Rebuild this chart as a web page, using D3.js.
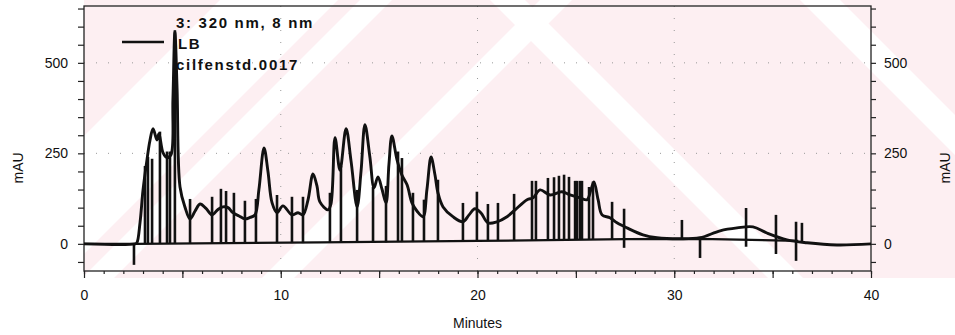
<!DOCTYPE html>
<html>
<head>
<meta charset="utf-8">
<script src="https://cdn.jsdelivr.net/npm/d3@7/dist/d3.min.js"></script>
<style>
  body { margin: 0; background: #fff; }
  svg { display: block; }
  text { font-family: "Liberation Sans", Arial, sans-serif; fill: #111; }
</style>
</head>
<body>
<svg id="chart" width="955" height="335"></svg>
<script>
// chromatogram trace (minutes, mAU)
const traceTime = [0, 2.6, 2.69, 2.85, 3.0, 3.2, 3.35, 3.51, 3.71, 3.81, 4.02, 4.22, 4.42, 4.52, 4.62, 4.73, 4.88, 5.13, 5.39,
  5.64, 5.9, 6.2, 6.51, 6.81, 7.06, 7.32, 7.57, 7.88, 8.18, 8.44, 8.69, 8.89, 9.15, 9.35, 9.56, 9.81, 10.11, 10.57,
  10.88, 11.13, 11.38, 11.64, 11.84, 11.99, 12.4, 12.55, 12.76, 13.01, 13.32, 13.57, 13.88, 14.08, 14.28, 14.53,
  14.74, 14.94, 15.15, 15.35, 15.5, 15.65, 15.91, 16.16, 16.42, 16.67, 16.93, 17.23, 17.43, 17.64, 17.84, 17.99,
  18.25, 18.75, 19.26, 19.57, 19.87, 20.18, 20.53, 20.99, 21.5, 21.91, 22.52, 22.82, 23.18, 23.69, 24.29, 24.7,
  25.21, 25.57, 25.77, 25.92, 26.13, 26.33, 26.73, 27.09, 27.6, 28.41, 29.12, 30.29, 31.31, 32.33, 33.19, 34.0,
  34.71, 35.73, 36.75, 38.27, 40];
const traceMAU = [0, 0, 3, 60, 149, 232, 285, 318, 287, 304, 251, 238, 246, 400, 585, 430, 157, 102, 69,
  90, 110, 98, 80, 95, 102, 100, 86, 77, 69, 73, 80, 150, 265, 200, 113, 86, 105, 80,
  86, 80, 120, 193, 160, 116, 94, 110, 293, 204, 318, 230, 102, 200, 329, 240,
  155, 185, 150, 113, 220, 298, 232, 190, 163, 113, 90, 75, 150, 240, 190, 141,
  102, 75, 61, 80, 97, 85, 58, 61, 75, 94, 122, 127, 149, 135, 144, 135,
  127, 122, 150, 171, 122, 80, 72, 58, 44, 25, 17, 14, 17, 36, 44, 47,
  30, 11, 3, -3, 0];

// integration baseline
const baseTime = [0, 2.7, 12, 20, 27.5, 31.3, 36.3];
const baseMAU = [0, 0, 4, 8, 13, 14, 8];

// peak drop lines: time, top, bottom
const markTime = [2.54, 3.1, 3.25, 3.46, 3.86, 4.22, 4.37, 4.62, 5.39, 6.51, 6.96, 7.22, 7.62, 8.18, 8.74, 9.81,
  10.57, 11.13, 12.5, 13.06, 13.88, 14.69, 15.35, 15.96, 16.16, 16.72, 17.28, 17.99, 19.26, 19.97, 20.53, 21.04,
  21.86, 22.77, 22.97, 23.58, 23.89, 24.14, 24.4, 24.65, 24.96, 25.06, 25.21, 25.31, 25.67, 25.87, 26.84, 27.45,
  30.39, 31.31, 33.65, 35.17, 36.19, 36.49];
const markTop = [0, 215, 240, 235, 310, 255, 255, 590, 124, 130, 152, 146, 141, 119, 124, 135,
  130, 130, 141, 215, 149, 157, 160, 255, 237, 141, 122, 177, 113, 144, 110, 113,
  138, 174, 174, 182, 184, 188, 191, 185, 174, 174, 174, 174, 157, 172, 116, 97,
  66, 14, 99, 80, 61, 58];
const markBottom = [-58, 0, 0, 0, 0, 0, 0, 0, 0, 1, 1, 1, 1, 1, 1, 2,
  2, 2, 3, 3, 4, 4, 4, 5, 5, 5, 6, 6, 7, 8, 8, 8,
  9, 10, 10, 10, 10, 11, 11, 11, 11, 11, 11, 11, 12, 12, 12, -11,
  14, -39, -8, -28, -47, 5];

const yLabelValues = [0, 250, 500];
const xLabelValues = [0, 10, 20, 30, 40];
const legendLines = ["3: 320 nm, 8 nm", "LB", "cilfenstd.0017"];

const svg = d3.select("#chart");
const x = d3.scaleLinear().domain([0, 40]).range([84, 871]);
const y = d3.scaleLinear().domain([-75, 657]).range([271, 6]);

// watermark: pale pink field with white diagonal bands
const wm = svg.append("g");
wm.append("rect").attr("x", 60).attr("y", 0).attr("width", 895).attr("height", 278).attr("fill", "#fdeff2");
const slashBands = [[220, 338], [360, 392], [540, 572]];
const backBands = [[490, 525], [800, 840]];
slashBands.forEach(b => {
  wm.append("polygon").attr("fill", "#fff")
    .attr("points", `${b[0]},0 ${b[1]},0 ${b[1] - 278},278 ${b[0] - 278},278`);
});
backBands.forEach(b => {
  wm.append("polygon").attr("fill", "#fff")
    .attr("points", `${b[0]},0 ${b[1]},0 ${b[1] + 278},278 ${b[0] + 278},278`);
});
wm.append("rect").attr("x", 0).attr("y", 0).attr("width", 84).attr("height", 335).attr("fill", "#fff");

// dotted grid
const grid = svg.append("g").attr("stroke", "#999").attr("stroke-width", 1).attr("stroke-dasharray", "1,11");
[250, 500].forEach(v => grid.append("line").attr("x1", x(0)).attr("x2", x(40)).attr("y1", y(v)).attr("y2", y(v)));
[10, 20, 30].forEach(t => grid.append("line").attr("x1", x(t)).attr("x2", x(t)).attr("y1", y(657)).attr("y2", y(-75)));

// axes
const yTicks = d3.range(-50, 651, 50);
const fmtY = d => yLabelValues.includes(d) ? d : "";
const axL = svg.append("g").attr("transform", `translate(${x(0)},0)`)
  .call(d3.axisLeft(y).tickValues(yTicks).tickSize(6).tickPadding(10).tickFormat(fmtY));
const axR = svg.append("g").attr("transform", `translate(${x(40)},0)`)
  .call(d3.axisRight(y).tickValues(yTicks).tickSize(5).tickPadding(8).tickFormat(fmtY));
const axBminor = svg.append("g").attr("transform", `translate(0,${y(-75)})`)
  .call(d3.axisBottom(x).tickValues(d3.range(0, 41, 1)).tickSize(3).tickFormat(""));
const axB = svg.append("g").attr("transform", `translate(0,${y(-75)})`)
  .call(d3.axisBottom(x).tickValues(d3.range(0, 41, 5)).tickSize(7).tickPadding(12)
    .tickFormat(d => xLabelValues.includes(d) ? d : ""));
[axL, axR, axBminor, axB].forEach(a => {
  a.select(".domain").remove();
  a.selectAll("line").attr("stroke", "#222").attr("stroke-width", 1.2);
  a.selectAll("text").style("font-size", "14px").attr("fill", "#111");
});

// frame
svg.append("rect").attr("x", x(0)).attr("y", y(657)).attr("width", x(40) - x(0)).attr("height", y(-75) - y(657))
  .attr("fill", "none").attr("stroke", "#222").attr("stroke-width", 1.3);

// axis titles
svg.append("text").attr("transform", `translate(23,${y(210)}) rotate(-90)`).attr("text-anchor", "middle")
  .style("font-size", "14px").text("mAU");
svg.append("text").attr("transform", `translate(950,${y(210)}) rotate(-90)`).attr("text-anchor", "middle")
  .style("font-size", "14px").text("mAU");
svg.append("text").attr("x", x(20)).attr("y", 328).attr("text-anchor", "middle")
  .style("font-size", "14px").text("Minutes");

// baseline and trace
const plot = svg.append("g");
plot.append("path").datum(d3.zip(baseTime, baseMAU))
  .attr("d", d3.line().x(d => x(d[0])).y(d => y(d[1])))
  .attr("fill", "none").attr("stroke", "#111").attr("stroke-width", 2.3);
plot.selectAll(".drop").data(d3.zip(markTime, markTop, markBottom)).enter().append("line")
  .attr("class", "drop")
  .attr("x1", d => x(d[0])).attr("x2", d => x(d[0]))
  .attr("y1", d => y(d[1])).attr("y2", d => y(d[2]))
  .attr("stroke", "#111").attr("stroke-width", 2.6);
plot.append("path").datum(d3.zip(traceTime, traceMAU))
  .attr("d", d3.line().x(d => x(d[0])).y(d => y(d[1])).curve(d3.curveCatmullRom.alpha(0.5)))
  .attr("fill", "none").attr("stroke", "#111").attr("stroke-width", 2.9).attr("stroke-linejoin", "round");

// legend
const leg = svg.append("g");
leg.append("line").attr("x1", 122).attr("x2", 164).attr("y1", 42).attr("y2", 42)
  .attr("stroke", "#111").attr("stroke-width", 2.4);
leg.selectAll("text").data(legendLines).enter().append("text")
  .attr("x", (d, i) => i === 1 ? 178 : 176).attr("y", (d, i) => 28 + i * 21)
  .style("font-size", "15px").style("font-weight", "bold").style("letter-spacing", "1.7px")
  .text(d => d);
</script>
</body>
</html>
